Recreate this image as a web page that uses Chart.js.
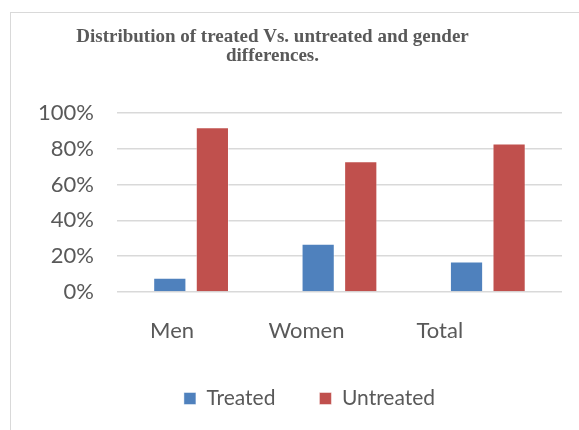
<!DOCTYPE html>
<html>
<head>
<meta charset="utf-8">
<script src="https://cdn.jsdelivr.net/npm/chart.js@4.4.0/dist/chart.umd.min.js"></script>
<style>
  html, body { margin: 0; padding: 0; background: #fff; overflow: hidden; }
  #frame { position: absolute; left: 10px; top: 12px; width: 620px; height: 460px; border: 1px solid #d9d9d9; }
  #wrap { position: absolute; left: 0; top: 0; width: 579px; height: 430px; }
</style>
</head>
<body>
<div id="frame"></div>
<div id="wrap"><canvas id="myChart"></canvas></div>
<script>
// values (percent)
var categories = ["Men", "Women", "Total"];
var treated = [8, 27, 17];
var untreated = [92, 73, 83];
var yTicks = [0, 20, 40, 60, 80, 100];

// the original category labels sit a bit left of their bars
var xLabelShift = [-19, -33, -48];

var ctx = document.getElementById("myChart").getContext("2d");
var textColor = "#595959";

var shiftPlugin = {
  id: "shifts",
  afterLayout: function(chart) {
    chart.titleBlock.left -= 16;
    chart.titleBlock.right -= 16;
    chart.legend.left += 21;
    chart.legend.right += 21;
  },
  afterDraw: function(chart) {
    var x = chart.scales.x;
    var c = chart.ctx;
    c.save();
    c.font = "22px Lato";
    c.fillStyle = textColor;
    c.textAlign = "center";
    c.textBaseline = "middle";
    for (var i = 0; i < categories.length; i++) {
      c.fillText(categories[i], x.getPixelForValue(i) + xLabelShift[i], x.top + 39);
    }
    c.restore();
  }
};

var data = {
  labels: categories,
  datasets: [
    {
      label: "Treated",
      data: treated,
      backgroundColor: "#4F81BD",
      borderColor: "rgba(255, 255, 255, 0.45)",
      borderWidth: 1
    },
    {
      label: "Untreated",
      data: untreated,
      backgroundColor: "#C0504D",
      borderColor: "rgba(255, 255, 255, 0.45)",
      borderWidth: 1
    }
  ]
};

var options = {
  responsive: true,
  maintainAspectRatio: false,
  animation: false,
  layout: {
    padding: { left: 15, right: 17, top: 0, bottom: 11 }
  },
  datasets: {
    bar: {
      categoryPercentage: 0.574,
      barPercentage: 0.78
    }
  },
  plugins: {
    title: {
      display: true,
      text: ["Distribution of treated Vs. untreated and gender", "differences."],
      color: textColor,
      font: { family: "Liberation Serif", size: 19, weight: "bold", lineHeight: 1.0 },
      padding: { top: 28, bottom: 47 }
    },
    legend: {
      position: "bottom",
      labels: {
        color: textColor,
        boxWidth: 12,
        boxHeight: 12,
        padding: 44,
        font: { family: "Lato", size: 21 }
      }
    },
    tooltip: { enabled: false }
  },
  scales: {
    x: {
      grid: { display: false, drawTicks: false },
      border: { display: false },
      ticks: { display: false },
      afterFit: function(scale) {
        scale.height = 52;
      }
    },
    y: {
      min: 0,
      max: 100,
      afterBuildTicks: function(axis) {
        axis.ticks = yTicks.map(function(v) { return { value: v }; });
      },
      grid: { color: "#d9d9d9", lineWidth: 1.5, drawTicks: false },
      border: { display: false },
      ticks: {
        color: textColor,
        padding: 23,
        font: { family: "Lato", size: 22 },
        callback: function(v) { return v + "%"; }
      }
    }
  }
};

var chart = new Chart(ctx, { type: "bar", data: data, options: options, plugins: [shiftPlugin] });
</script>
</body>
</html>
